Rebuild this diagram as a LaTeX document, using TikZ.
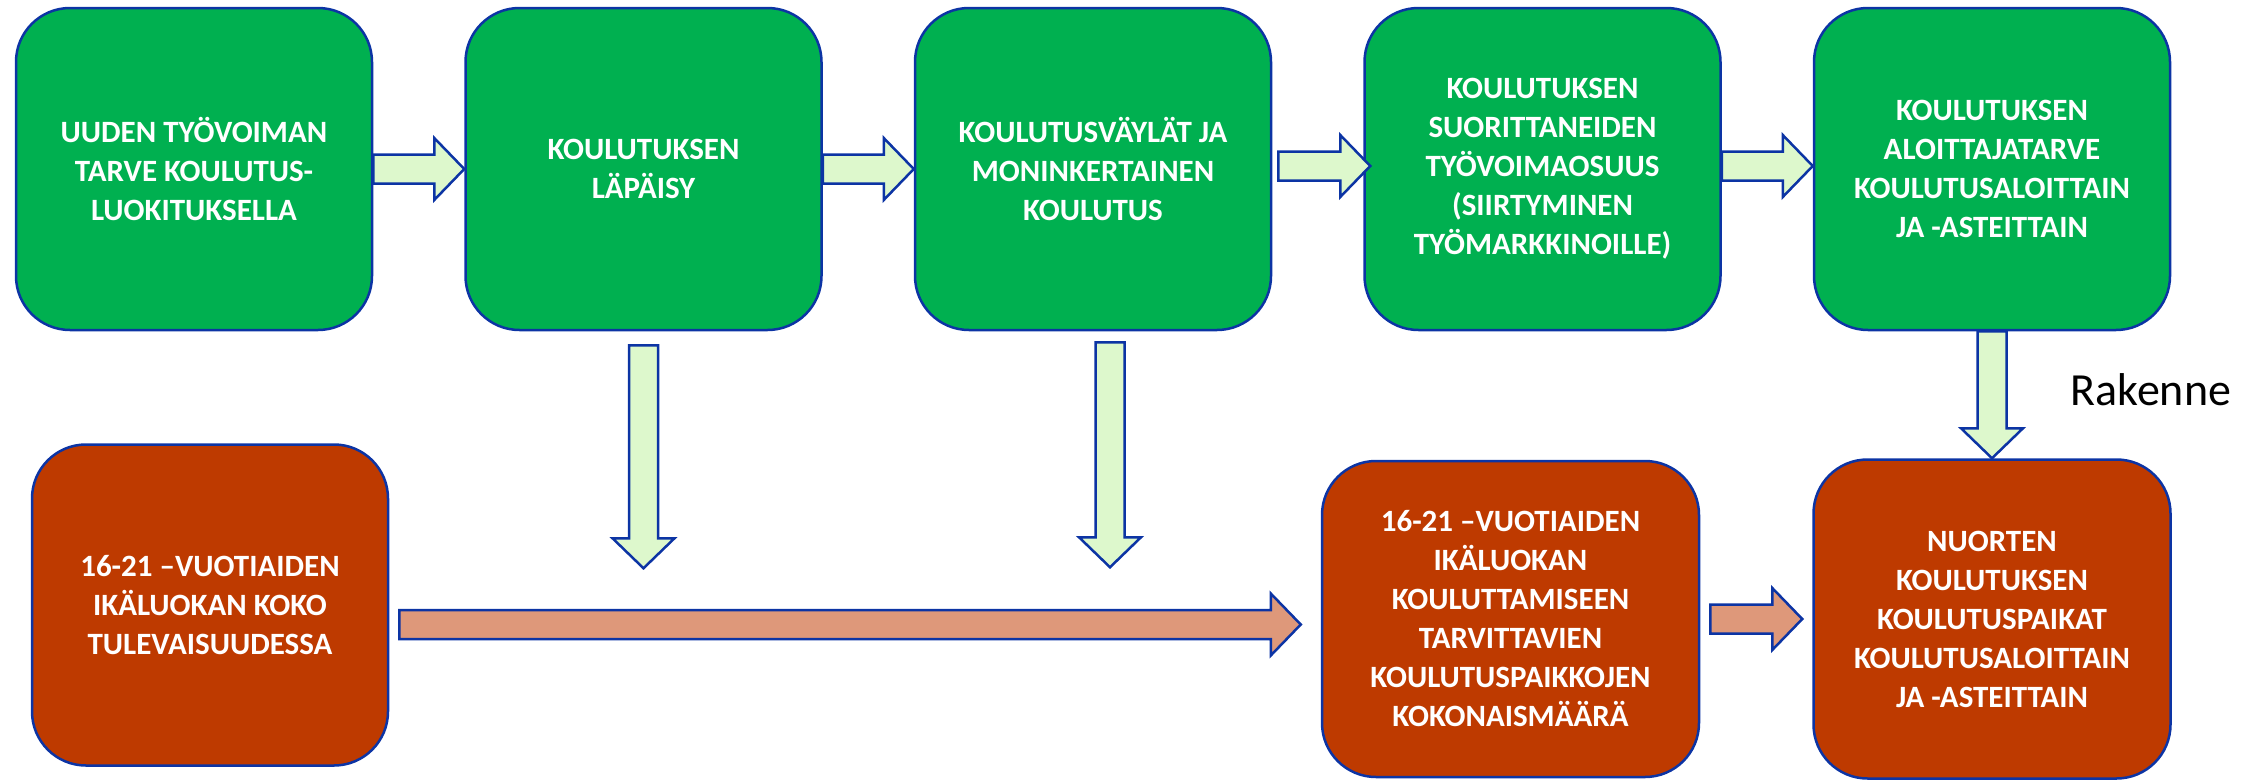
\documentclass[tikz,border=0pt]{standalone}
\usepackage{fontspec}
\setmainfont{Carlito}
\usetikzlibrary{chains, positioning, calc}
\definecolor{boxgreen}{RGB}{0,176,80}
\definecolor{boxred}{RGB}{190,58,0}
\definecolor{edgeblue}{RGB}{12,52,164}
\definecolor{lightgreen}{RGB}{221,248,204}
\definecolor{salmon}{RGB}{222,152,122}
\tikzset{
  stepbox/.style = {draw=edgeblue, line width=2.5pt, rounded corners=54pt,
    minimum width=356pt, minimum height=322pt, inner sep=0, align=center,
    text=white, font=\bfseries\fontsize{31}{39}\selectfont},
  greenbox/.style = {stepbox, fill=boxgreen},
  redbox/.style = {stepbox, fill=boxred},
  greenarrow/.style = {draw=edgeblue, line width=2.5pt, fill=lightgreen, line join=miter},
  redarrow/.style = {greenarrow, fill=salmon},
}
% block arrow from #2 to the tip #3
\newcommand\blockarrow[3][greenarrow]{%
  \coordinate (ba-h) at ($(#3)!30pt!(#2)$);
  \draw [#1] ($(#2)!14.5pt!90:(#3)$) -- ($(ba-h)!14.5pt!90:(#3)$) -- ($(ba-h)!31pt!90:(#3)$)
    -- (#3) -- ($(ba-h)!31pt!-90:(#3)$) -- ($(ba-h)!14.5pt!-90:(#3)$) -- ($(#2)!14.5pt!-90:(#3)$) -- cycle;
}

\begin{document}
\begin{tikzpicture}[x=1pt, y=-1pt]
  \useasboundingbox (0,0) rectangle (2257,782);

  % top row: the chain of green boxes
  \begin{scope}[shift={(194,169)}, start chain=1 going right, node distance=91pt]
    \foreach \N/\T in {
      1/{UUDEN TYÖVOIMAN\\TARVE KOULUTUS-\\LUOKITUKSELLA},
      2/{KOULUTUKSEN\\LÄPÄISY},
      3/{KOULUTUSVÄYLÄT JA\\MONINKERTAINEN\\KOULUTUS},
      4/{KOULUTUKSEN\\SUORITTANEIDEN\\TYÖVOIMAOSUUS\\(SIIRTYMINEN\\TYÖMARKKINOILLE)},
      5/{KOULUTUKSEN\\ALOITTAJATARVE\\KOULUTUSALOITTAIN\\JA -ASTEITTAIN}%
    }{
      \node (b\N) [greenbox, on chain=1] {\T};
    }
  \end{scope}

  % bottom row
  \node (c) [redbox, minimum width=357pt, minimum height=319pt, below=127pt of b5]
    {NUORTEN\\KOULUTUKSEN\\KOULUTUSPAIKAT\\KOULUTUSALOITTAIN\\JA -ASTEITTAIN};
  \node (b) [redbox, minimum width=377pt, minimum height=316pt, left=112pt of c]
    {16-21 –VUOTIAIDEN\\IKÄLUOKAN\\KOULUTTAMISEEN\\TARVITTAVIEN\\KOULUTUSPAIKKOJEN\\KOKONAISMÄÄRÄ};
  \node (a) [redbox, minimum height=321pt, below=112pt of b1, xshift=16pt]
    {16-21 –VUOTIAIDEN\\IKÄLUOKAN KOKO\\TULEVAISUUDESSA};

  \node (rak) [anchor=base west, font=\fontsize{46}{55}\selectfont] at (2067,405) {Rakenne};

  % arrows
  \blockarrow{b1.east}{b2.west}
  \blockarrow{b2.east}{b3.west}
  \blockarrow{[xshift=6pt,yshift=3pt]b3.east}{[xshift=7pt,yshift=3pt]b4.west}
  \blockarrow{[yshift=3pt]b4.east}{[yshift=3pt]b5.west}

  \coordinate (d2) at ([yshift=-237pt]b2.south);
  \coordinate (d3) at ([xshift=17pt,yshift=-236pt]b3.south);
  \blockarrow{[yshift=-14pt]b2.south}{d2}
  \blockarrow{[xshift=17pt,yshift=-11pt]b3.south}{d3}
  \blockarrow{b5.south}{c.north}

  \blockarrow[redarrow]{[xshift=10pt,yshift=-19.5pt]a.east}{[xshift=-20pt,yshift=-5.5pt]b.west}
  \blockarrow[redarrow]{[xshift=10pt]b.east}{[xshift=-10pt]c.west}
\end{tikzpicture}
\end{document}
